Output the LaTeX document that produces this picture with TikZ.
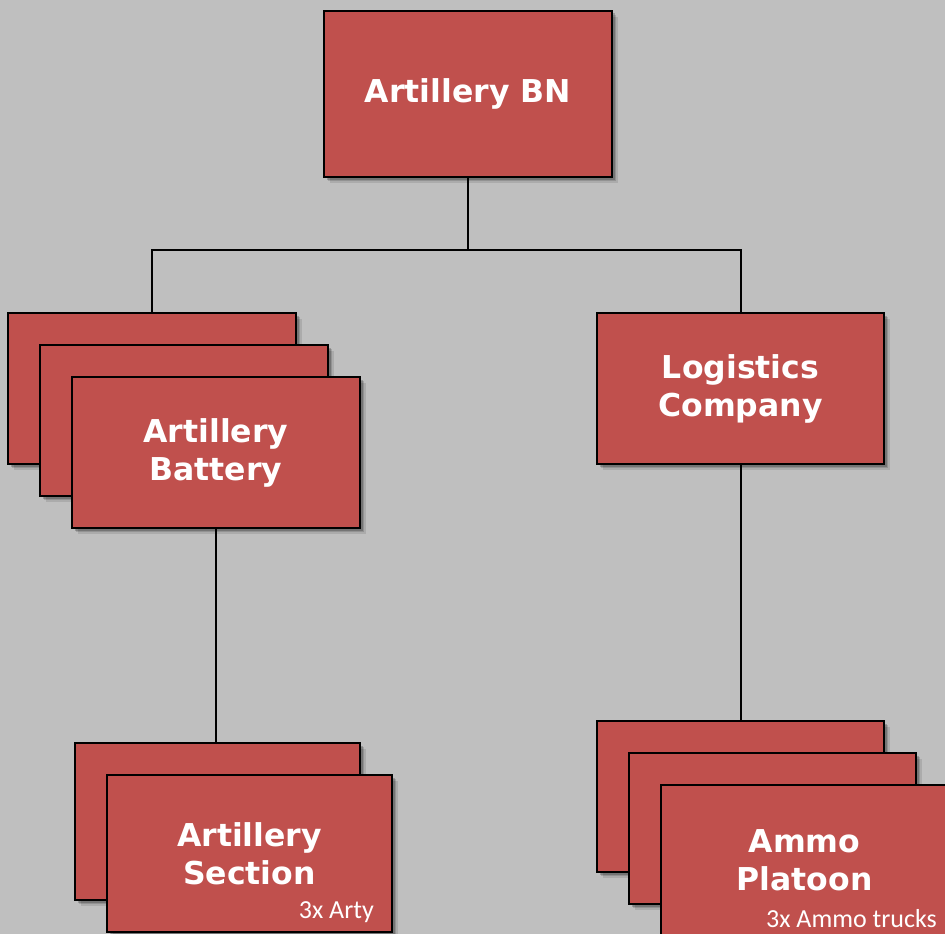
\documentclass[tikz,border=0pt]{standalone}
\usepackage{fontspec}
\newfontfamily\titlefont{DejaVu Sans}
\newfontfamily\notefont{Carlito}
\usetikzlibrary{shadows}
\definecolor{bggray}{RGB}{191,191,191}
\definecolor{boxred}{RGB}{192,80,77}
\tikzset{
  x=1pt, y=-1pt,
  unitbox/.style={rectangle, draw=black, line width=2.6pt, fill=boxred, inner sep=0pt, outer sep=0pt,
    anchor=north west, text=white, align=center,
    font=\titlefont\bfseries\fontsize{31.5}{38}\selectfont,
    general shadow={fill=black, opacity=0.10, shadow xshift=6pt, shadow yshift=-6pt},
    general shadow={fill=black, opacity=0.14, shadow xshift=4pt, shadow yshift=-4pt},
    general shadow={fill=black, opacity=0.2, shadow xshift=2.5pt, shadow yshift=-2.5pt}},
  link/.style={draw=black, line width=2pt},
  note/.style={text=white, font=\notefont\fontsize{26}{30}\selectfont, inner sep=0pt, anchor=base east}
}
\begin{document}
\begin{tikzpicture}
\fill[bggray] (0,0) rectangle (945,934);
\clip (0,0) rectangle (945,934);
% top
\node[unitbox, minimum width=288pt, minimum height=166pt] (bn) at (324,11) {Artillery BN};
% battery stack
\node[unitbox, minimum width=288pt, minimum height=151pt] (bat1) at (8,313) {};
\node[unitbox, minimum width=288pt, minimum height=151pt] (bat2) at (40,345) {};
\node[unitbox, minimum width=288pt, minimum height=151pt] (bat) at (72,377) {Artillery\\Battery};
% logistics
\node[unitbox, minimum width=287pt, minimum height=151pt] (log) at (597,313) {Logistics\\Company};
% section stack
\node[unitbox, minimum width=285pt, minimum height=157pt] (sec1) at (75,743) {};
\node[unitbox, minimum width=285pt, minimum height=157pt] (sec) at (107,775) {Artillery\\Section};
\node[note] (secnote) at (374,918) {3x Arty};
% ammo stack
\node[unitbox, minimum width=287pt, minimum height=151pt] (amm1) at (597,721) {};
\node[unitbox, minimum width=287pt, minimum height=151pt] (amm2) at (629,753) {};
\node[unitbox, minimum width=287pt, minimum height=151pt] (amm) at (661,785) {Ammo\\Platoon};
\node[note] (ammnote) at (937,927) {3x Ammo trucks};
% connectors
\coordinate (bus) at (bn.south |- 0,250);
\draw[link] (bn.south) -- (bus);
\draw[link] (bat1.north) -- (bat1.north |- bus) -- (log.north |- bus) -- (log.north);
\draw[link] (bat.south) -- (bat.south |- sec1.north);
\draw[link] (log.south) -- (amm1.north);
\end{tikzpicture}
\end{document}
